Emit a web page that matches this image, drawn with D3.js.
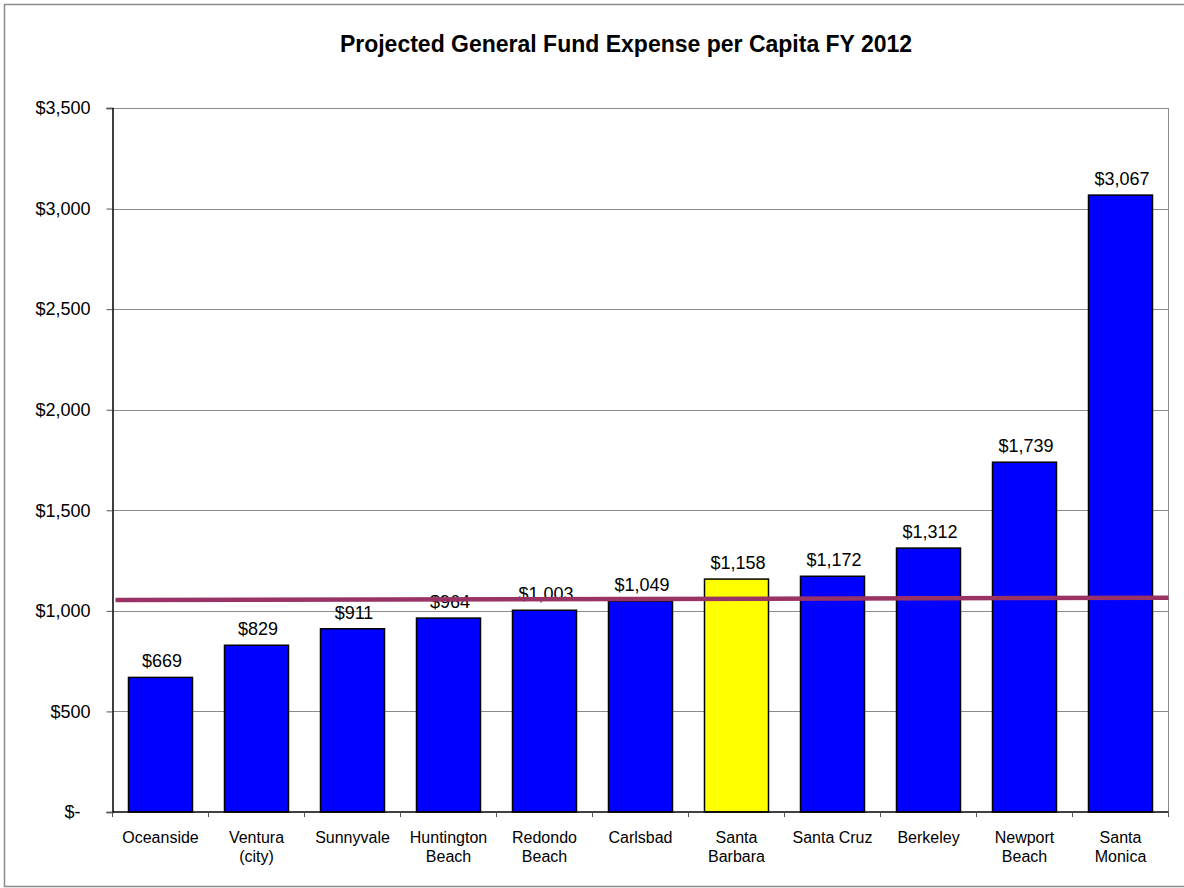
<!DOCTYPE html>
<html>
<head>
<meta charset="utf-8">
<script src="https://cdn.jsdelivr.net/npm/d3@7"></script>
<style>
  body { margin: 0; background: #fff; }
  svg { display: block; font-family: "Liberation Sans", Arial, sans-serif; }
</style>
</head>
<body>
<svg id="chart"></svg>
<script>
// chart data
const cities = [
  ["Oceanside"], ["Ventura", "(city)"], ["Sunnyvale"], ["Huntington", "Beach"],
  ["Redondo", "Beach"], ["Carlsbad"], ["Santa", "Barbara"], ["Santa Cruz"],
  ["Berkeley"], ["Newport", "Beach"], ["Santa", "Monica"]
];
const expense = [669, 829, 911, 964, 1003, 1049, 1158, 1172, 1312, 1739, 3067];
const highlightCity = "Santa Barbara";
const yTicks = [0, 500, 1000, 1500, 2000, 2500, 3000, 3500];
const averageLine = [1054, 1065]; // value at left and right end of the line

const width = 1184;
const height = 888;
const margin = { top: 108, right: 15.5, bottom: 76, left: 112.5 };

const svg = d3.select("#chart")
  .attr("width", width)
  .attr("height", height);

// outer chart border
svg.append("rect")
  .attr("x", 4.5).attr("y", 4.5)
  .attr("width", width + 10).attr("height", 882)
  .attr("fill", "#fff")
  .attr("stroke", "#8c8c8c")
  .attr("stroke-width", 1.5);

const names = cities.map(d => d.join(" "));

const x = d3.scaleBand()
  .domain(names)
  .range([margin.left, width - margin.right])
  .paddingInner(1 / 3)
  .paddingOuter(1 / 6);

const y = d3.scaleLinear()
  .domain([0, 3500])
  .range([height - margin.bottom, margin.top]);

// title
svg.append("text")
  .attr("x", 626)
  .attr("y", 52)
  .attr("text-anchor", "middle")
  .style("font-size", "23px")
  .style("font-weight", "bold")
  .text("Projected General Fund Expense per Capita FY 2012");

// gridlines
svg.append("g")
  .selectAll("line")
  .data(yTicks.filter(d => d > 0))
  .join("line")
  .attr("x1", margin.left)
  .attr("x2", width - margin.right)
  .attr("y1", d => Math.round(y(d)) + 0.5)
  .attr("y2", d => Math.round(y(d)) + 0.5)
  .attr("stroke", "#8c8c8c")
  .attr("stroke-width", 1);

// right border of plot area
svg.append("line")
  .attr("x1", width - margin.right).attr("x2", width - margin.right)
  .attr("y1", margin.top).attr("y2", height - margin.bottom)
  .attr("stroke", "#8c8c8c");

// bars
svg.append("g")
  .selectAll("rect")
  .data(expense)
  .join("rect")
  .attr("x", (d, i) => x(names[i]))
  .attr("y", d => y(d))
  .attr("width", x.bandwidth())
  .attr("height", d => y(0) - y(d))
  .attr("fill", (d, i) => names[i] === highlightCity ? "#ffff00" : "#0000ff")
  .attr("stroke", "#000")
  .attr("stroke-width", 1.5);

// value labels
const money = d3.format("$,");
svg.append("g")
  .selectAll("text")
  .data(expense)
  .join("text")
  .attr("x", (d, i) => x(names[i]) + x.bandwidth() / 2 + 1.5)
  .attr("y", d => y(d) - 10)
  .attr("text-anchor", "middle")
  .style("font-size", "18px")
  .text(d => money(d));

// y axis
const yAxis = d3.axisLeft(y)
  .tickValues(yTicks)
  .tickSize(6)
  .tickPadding(16)
  .tickFormat(d => d === 0 ? "$-\u2007" : money(d));

const gy = svg.append("g")
  .attr("transform", `translate(${margin.left},0)`)
  .call(yAxis);
gy.select(".domain").attr("stroke", "#000").attr("stroke-width", 1.5);
gy.selectAll(".tick line").attr("stroke", "#555");
gy.selectAll(".tick text")
  .style("font-size", "18px")
  .style("font-family", "'Liberation Sans', Arial, sans-serif")
  .style("white-space", "pre")
  .attr("fill", "#000");

// x axis with tick marks at category boundaries
const xAxis = svg.append("g");
xAxis.append("line")
  .attr("x1", margin.left).attr("x2", width - margin.right)
  .attr("y1", y(0)).attr("y2", y(0))
  .attr("stroke", "#000").attr("stroke-width", 1.5);

const step = x.step();
xAxis.selectAll(".xtick")
  .data(d3.range(names.length + 1))
  .join("line")
  .attr("class", "xtick")
  .attr("x1", i => margin.left + i * step)
  .attr("x2", i => margin.left + i * step)
  .attr("y1", y(0))
  .attr("y2", y(0) + 5)
  .attr("stroke", "#555");

xAxis.selectAll(".xlabel")
  .data(cities)
  .join("text")
  .attr("class", "xlabel")
  .attr("x", (d, i) => x(names[i]) + x.bandwidth() / 2)
  .attr("y", y(0) + 31)
  .attr("text-anchor", "middle")
  .style("font-size", "16px")
  .selectAll("tspan")
  .data(d => d)
  .join("tspan")
  .attr("x", function () { return d3.select(this.parentNode).attr("x"); })
  .attr("dy", (d, i) => i === 0 ? 0 : 18.5)
  .text(d => d);

// average line drawn over the bars
const lineX = d3.scaleLinear()
  .domain([0, 1])
  .range([margin.left + 3, width - margin.right]);

svg.append("path")
  .datum(averageLine)
  .attr("d", d3.line()
    .x((d, i) => lineX(i / (averageLine.length - 1)))
    .y(d => y(d)))
  .attr("fill", "none")
  .attr("stroke", "#993366")
  .attr("stroke-width", 4.5);
</script>
</body>
</html>
